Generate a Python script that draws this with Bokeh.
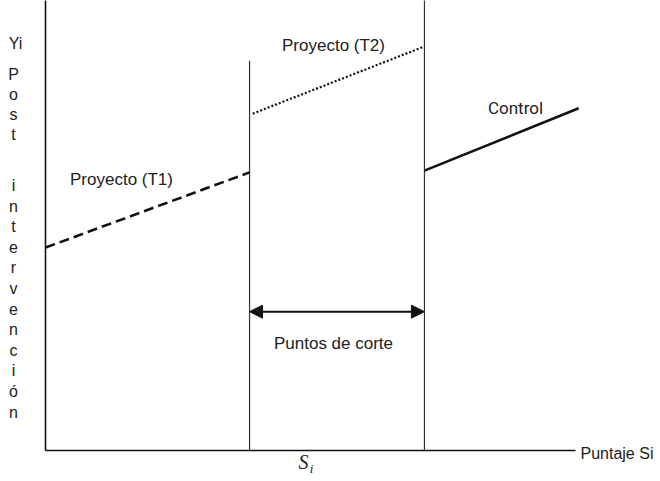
from bokeh.plotting import figure
from bokeh.models import Range1d, Label, Arrow, NormalHead
from bokeh.embed import file_html
from bokeh.resources import INLINE

# ---- data (conceptual units: score 0..100 on x, outcome 0..100 on y) ----
axis_x_max = 100.0
axis_y_max = 100.0
cutoffs = [38.5, 71.5]
cutoff_tops = [87.6, 100.0]
t1_x = [0.0, 38.5]
t1_y = [45.6, 62.5]
t2_x = [39.1, 71.5]
t2_y = [75.7, 90.8]
ctrl_x = [71.5, 100.6]
ctrl_y = [62.9, 76.9]
arrow_level = 31.2

label_t1 = "Proyecto (T1)"
label_t2 = "Proyecto (T2)"
label_ctrl = "Control"
label_cut = "Puntos de corte"
label_xaxis = "Puntaje Si"
label_s = "S"
label_s_sub = "i"
label_yi = "Yi"
ylabel_word1 = "Post"
ylabel_word2 = "intervención"

# ---- layout ----
W, H = 660, 481
SX, SY = 5.3, 4.45          # pixels per unit
OX, OY = 45, 31             # origin offset in figure pixels (from left, from bottom)

def px(ix, iy):
    """picture pixel -> data coords"""
    fx = ix
    fy = H - iy
    return (fx - OX) / SX, (fy - OY) / SY

p = figure(width=W, height=H, output_backend="svg", toolbar_location=None,
           x_range=Range1d(-OX / SX, (W - OX) / SX),
           y_range=Range1d(-OY / SY, (H - OY) / SY),
           min_border=0, outline_line_color=None,
           background_fill_color="white", border_fill_color="white")
p.xaxis.visible = False
p.yaxis.visible = False
p.grid.visible = False

# axes
p.line([0, 0], [0, axis_y_max + 5], line_color="#111111", line_width=1.6)
p.line([0, axis_x_max], [0, 0], line_color="#111111", line_width=1.6)

# cutoff verticals
for c, top in zip(cutoffs, cutoff_tops):
    p.line([c, c], [0, top + (5 if top >= axis_y_max else 0)], line_color="#333333", line_width=1.2)

# regression lines
p.line(t1_x, t1_y, line_color="#111111", line_width=2.6, line_dash="10 5")
p.line(t2_x, t2_y, line_color="#111111", line_width=2.2, line_dash="2 2")
p.line(ctrl_x, ctrl_y, line_color="#111111", line_width=2.6)

# double arrow between cutoffs
p.add_layout(Arrow(x_start=cutoffs[0], y_start=arrow_level, x_end=cutoffs[1], y_end=arrow_level,
                   line_color="#111111", line_width=2,
                   start=NormalHead(size=13, fill_color="#111111", line_color="#111111"),
                   end=NormalHead(size=13, fill_color="#111111", line_color="#111111")))

font = "Liberation Sans"

def lab(text, ix, iy, size, align="center", fontname=font, style="normal", color="#222222"):
    x, y = px(ix, iy)
    p.add_layout(Label(x=x, y=y, text=text, text_align=align, text_baseline="middle",
                       text_font=fontname, text_font_size=f"{size}px",
                       text_font_style=style, text_color=color))

lab(label_t1, 121, 179, 17)
lab(label_t2, 333, 45, 17)
lab(label_ctrl, 515, 107, 17, fontname="Roboto")
lab(label_cut, 333, 343, 17)
lab(label_xaxis, 580, 453, 16, align="left")
lab(label_s, 303, 461, 20, fontname="Liberation Serif", style="italic")
lab(label_s_sub, 311, 468, 13, fontname="Liberation Serif", style="italic")
lab(label_yi, 15, 43, 16)

for k, ch in enumerate(ylabel_word1):
    lab(ch, 13, 74 + 20 * k, 16)
for k, ch in enumerate(ylabel_word2):
    lab(ch, 13, 185 + 20.6 * k, 16)

open("out.html", "w").write(file_html(p, INLINE))
